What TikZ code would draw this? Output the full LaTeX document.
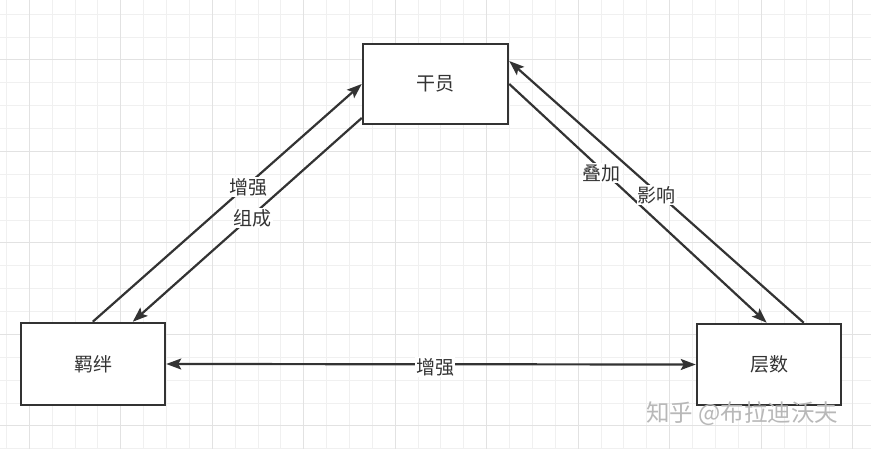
\documentclass[tikz,border=0pt]{standalone}
\usepackage{fontspec}
\newfontfamily\cjk{Noto Sans CJK SC}
\usetikzlibrary{arrows.meta,calc}
\definecolor{ink}{HTML}{333333}
\definecolor{gridminor}{HTML}{F0F0F0}
\definecolor{gridmajor}{HTML}{E2E2E2}
\definecolor{wm}{HTML}{B8B8B8}
\tikzset{
  box/.style={draw=ink, line width=2.5pt, fill=white, rectangle, inner sep=0pt,
    font=\cjk\fontsize{19}{21}\selectfont, text=ink},
  tip/.style={Stealth[length=15pt,width=11pt,inset=3pt]},
  conn/.style={draw=ink, line width=2.2pt, -{Stealth[length=15pt,width=11pt,inset=3pt]}},
  lbl/.style={fill=white, inner sep=1pt, yshift=-3pt, font=\cjk\fontsize{19}{21}\selectfont, text=ink}
}
\begin{document}
\begin{tikzpicture}[x=1pt,y=-1pt]
\useasboundingbox (0,0) rectangle (871,449);
\fill[white] (0,0) rectangle (871,449);
% grid
\foreach \i in {-1,...,37} {
  \draw[gridminor, line width=1pt] ({29.3+\i*22.87},0) -- ({29.3+\i*22.87},449);
}
\foreach \i in {-3,...,17} {
  \draw[gridminor, line width=1pt] (0,{60+\i*22.87}) -- (871,{60+\i*22.87});
}
\foreach \i in {0,...,9} {
  \draw[gridmajor, line width=1pt] ({29.3+\i*91.48},0) -- ({29.3+\i*91.48},449);
}
\foreach \i in {0,...,4} {
  \draw[gridmajor, line width=1pt] (0,{60+\i*91.48}) -- (871,{60+\i*91.48});
}
% boxes
\node[box, minimum width=144pt, minimum height=82pt] (jb) at (93,364) {羁绊};
\node[box, minimum width=145pt, minimum height=80pt] (gy) at (435.5,84) {干员};
\node[box, minimum width=144pt, minimum height=81pt] (cs) at (769,364.5) {层数};
% connectors
\draw[conn] ([xshift=73pt]jb.north west) -- (gy.west)
  node[lbl, pos=0.58] {增强};
\draw[conn] ([yshift=-34pt]gy.west) -- ([xshift=113pt]jb.north west)
  node[lbl, pos=0.476] {组成};
\draw[conn] (gy.east) -- ([xshift=71pt]cs.north west)
  node[lbl, pos=0.36] {叠加};
\draw[conn] ([xshift=108pt]cs.north west) -- ([yshift=23pt]gy.east)
  node[lbl, pos=0.5] {影响};
\draw[conn, {Stealth[length=15pt,width=11pt,inset=3pt]}-{Stealth[length=15pt,width=11pt,inset=3pt]}] (jb.east) -- (cs.west)
  node[lbl, pos=0.508] {增强};
% watermark
\node[font=\cjk\fontsize{23.5}{25}\selectfont, text=wm] (wmk) at (742,414) {知乎 @布拉迪沃夫};
\end{tikzpicture}
\end{document}
